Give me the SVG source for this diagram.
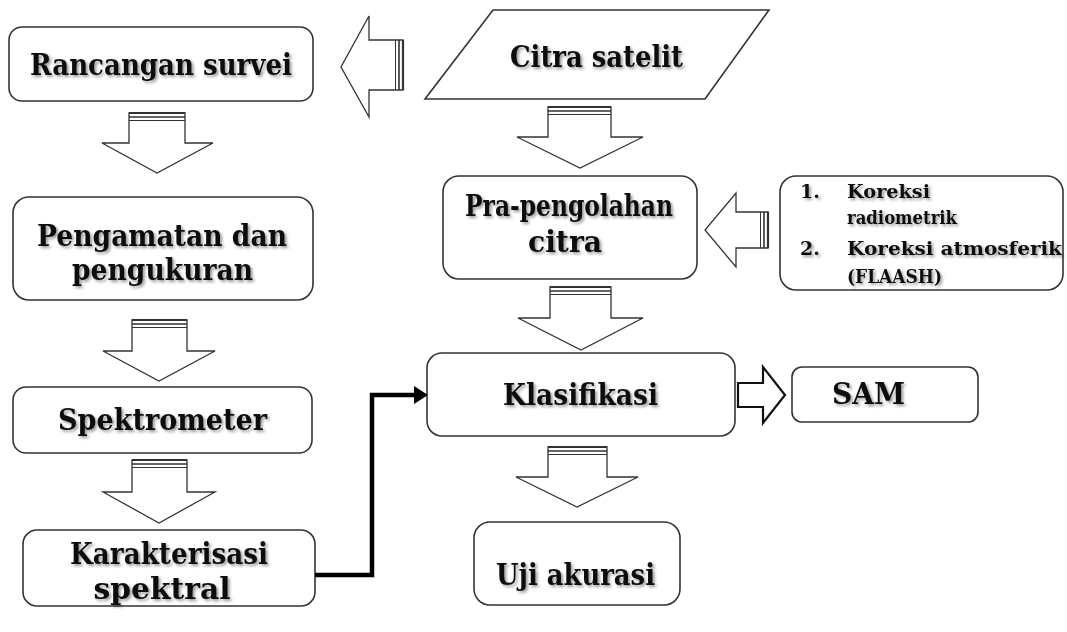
<svg xmlns="http://www.w3.org/2000/svg" width="1067" height="632" viewBox="0 0 1067 632">
<defs>
<filter id="sh" x="-10%" y="-30%" width="120%" height="160%">
<feDropShadow dx="2" dy="2" stdDeviation="1.6" flood-color="#000" flood-opacity="0.4"/>
</filter>
</defs>
<style>
.box{fill:#fff;stroke:#333;stroke-width:1.6}
.t{font-family:"DejaVu Serif","Liberation Serif",serif;font-weight:bold;fill:#111;filter:url(#sh);text-anchor:middle}
.m{font-size:29px}
.s{font-size:19px;text-anchor:start}
.blk{fill:#fff;stroke:#333;stroke-width:1.3;stroke-linejoin:miter}
.ln{stroke:#333;fill:none}
</style>
<rect width="1067" height="632" fill="#fff"/>

<g id="rancangan">
<rect class="box" x="9" y="27" width="304" height="74" rx="13"/>
<text class="t m" x="161" y="75" textLength="262" lengthAdjust="spacingAndGlyphs">Rancangan survei</text>
</g>
<g id="pengamatan">
<rect class="box" x="13" y="197" width="300" height="103" rx="16"/>
<text class="t m" x="162" y="246" textLength="250" lengthAdjust="spacingAndGlyphs">Pengamatan dan</text>
<text class="t m" x="162.5" y="280" textLength="181" lengthAdjust="spacingAndGlyphs">pengukuran</text>
</g>
<g id="spektrometer">
<rect class="box" x="13" y="387" width="299" height="66" rx="13"/>
<text class="t m" x="162.5" y="430" textLength="209" lengthAdjust="spacingAndGlyphs">Spektrometer</text>
</g>
<g id="karakterisasi">
<rect class="box" x="23" y="530" width="292" height="76" rx="14"/>
<text class="t m" x="169" y="564" textLength="198" lengthAdjust="spacingAndGlyphs">Karakterisasi</text>
<text class="t m" x="162" y="599" textLength="137" lengthAdjust="spacingAndGlyphs">spektral</text>
</g>
<g id="citra">
<polygon class="box" points="493,10 769,10 705,99 425,99"/>
<text class="t m" x="596.5" y="67" textLength="173" lengthAdjust="spacingAndGlyphs">Citra satelit</text>
</g>
<g id="pra">
<rect class="box" x="443" y="176" width="254" height="103" rx="16"/>
<text class="t m" x="569" y="216" textLength="208" lengthAdjust="spacingAndGlyphs">Pra-pengolahan</text>
<text class="t m" x="565" y="252" textLength="74" lengthAdjust="spacingAndGlyphs">citra</text>
</g>
<g id="koreksi">
<rect class="box" x="780" y="176" width="283" height="114" rx="16"/>
<text class="t s" x="800" y="198">1.</text>
<text class="t s" x="847" y="198" textLength="83" lengthAdjust="spacingAndGlyphs">Koreksi</text>
<text class="t s" x="847" y="224" textLength="110" lengthAdjust="spacingAndGlyphs">radiometrik</text>
<text class="t s" x="800" y="255">2.</text>
<text class="t s" x="847" y="255" textLength="215" lengthAdjust="spacingAndGlyphs">Koreksi atmosferik</text>
<text class="t s" x="847" y="283" textLength="95" lengthAdjust="spacingAndGlyphs">(FLAASH)</text>
</g>
<g id="klasifikasi">
<rect class="box" x="427" y="353" width="308" height="83" rx="15"/>
<text class="t m" x="580.5" y="405" textLength="155" lengthAdjust="spacingAndGlyphs">Klasifikasi</text>
</g>
<g id="sam">
<rect class="box" x="792" y="367" width="186" height="55" rx="10"/>
<text class="t m" x="868.5" y="404" textLength="73" lengthAdjust="spacingAndGlyphs">SAM</text>
</g>
<g id="uji">
<rect class="box" x="474" y="522" width="206" height="83" rx="16"/>
<text class="t m" x="575.5" y="585" textLength="159" lengthAdjust="spacingAndGlyphs">Uji akurasi</text>
</g>

<g id="connectors">
<g>
<polygon class="blk" points="129,113 185,113 185,143 213,143 157,173 102,143 129,143"/>
<path class="ln" d="M129,113 H185" stroke-width="2.2"/><path class="ln" d="M129,117 H185" stroke-width="1.6"/><path class="ln" d="M129,120.5 H185" stroke-width="1"/>
</g>
<g>
<polygon class="blk" points="132,320 187,320 187,351 215,351 159,381 103,351 132,351"/>
<path class="ln" d="M132,320 H187" stroke-width="2.2"/><path class="ln" d="M132,324 H187" stroke-width="1.6"/><path class="ln" d="M132,327.5 H187" stroke-width="1"/>
</g>
<g>
<polygon class="blk" points="132,460 187,460 187,492 215,492 159,523 103,492 132,492"/>
<path class="ln" d="M132,460 H187" stroke-width="2.2"/><path class="ln" d="M132,464 H187" stroke-width="1.6"/><path class="ln" d="M132,467.5 H187" stroke-width="1"/>
</g>
<g>
<polygon class="blk" points="548,107 611,107 611,137 643,137 580,168 517,137 548,137"/>
<path class="ln" d="M548,107 H611" stroke-width="2.2"/><path class="ln" d="M548,111 H611" stroke-width="1.6"/><path class="ln" d="M548,114.5 H611" stroke-width="1"/>
</g>
<g>
<polygon class="blk" points="550,287 611,287 611,318 643,318 581,350 518,318 550,318"/>
<path class="ln" d="M550,287 H611" stroke-width="2.2"/><path class="ln" d="M550,291 H611" stroke-width="1.6"/><path class="ln" d="M550,294.5 H611" stroke-width="1"/>
</g>
<g>
<polygon class="blk" points="548,447 607,447 607,477 638,477 577,507 516,477 548,477"/>
<path class="ln" d="M548,447 H607" stroke-width="2.2"/><path class="ln" d="M548,451 H607" stroke-width="1.6"/><path class="ln" d="M548,454.5 H607" stroke-width="1"/>
</g>
<g>
<polygon class="blk" points="403,40 403,90 369,90 369,117 341,67 369,16 369,40"/>
<path class="ln" d="M403,40 V90" stroke-width="2.2"/><path class="ln" d="M399,40 V90" stroke-width="1.6"/><path class="ln" d="M395.5,40 V90" stroke-width="1"/>
</g>
<g>
<polygon class="blk" points="768,212 768,248 736,248 736,267 705,230 736,193 736,212"/>
<path class="ln" d="M768,212 V248" stroke-width="2.2"/><path class="ln" d="M764,212 V248" stroke-width="1.6"/><path class="ln" d="M760.5,212 V248" stroke-width="1"/>
</g>
<polygon fill="#fff" stroke="#111" stroke-width="2.2" points="738,383 763,383 763,367 785,395 763,423 763,407 738,407"/>
<polyline points="315,575 372,575 372,395 420,395" fill="none" stroke="#000" stroke-width="4.5" stroke-linejoin="miter"/>
<polygon points="414,386 428,395 414,404" fill="#000"/>
</g>
</svg>
